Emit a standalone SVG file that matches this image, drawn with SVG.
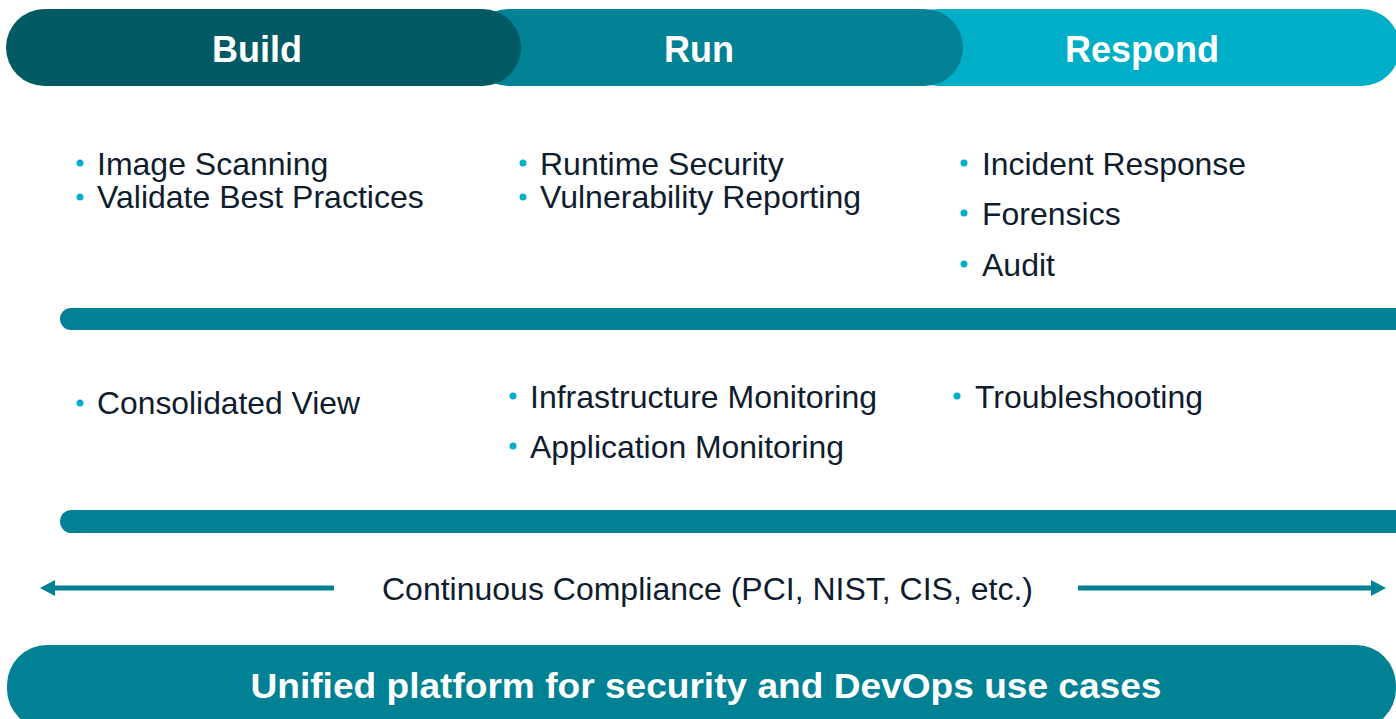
<svg xmlns="http://www.w3.org/2000/svg" width="1396" height="719" viewBox="0 0 1396 719">
<style>
.hdr{font-family:"Liberation Sans",Arial,sans-serif;font-weight:bold;font-size:36px;fill:#ffffff;text-anchor:middle}
.item{font-family:"Liberation Sans",Arial,sans-serif;font-size:32px;fill:#0f1c2e}
.bul{fill:#00b0ca}
.bar{fill:#008294}
.arr{stroke:#008294;stroke-width:5;fill:none}
.cc{font-family:"Liberation Sans",Arial,sans-serif;font-size:31px;fill:#0f1c2e}
.uni{font-family:"Liberation Sans",Arial,sans-serif;font-weight:bold;font-size:35px;fill:#ffffff;text-anchor:middle}
</style>
<defs>
<marker id="ah" viewBox="0 0 15 16" refX="1" refY="8" markerWidth="15" markerHeight="16" markerUnits="userSpaceOnUse" orient="auto">
<path d="M0,0 L15,8 L0,16 Z" fill="#008294"/>
</marker>
</defs>
<rect width="1396" height="719" fill="#ffffff"/>
<g id="respond">
<rect x="900" y="9" width="500" height="77" rx="38.5" fill="#00aec7"/>
<text class="hdr" x="1142" y="62">Respond</text>
</g>
<g id="run">
<rect x="470" y="9" width="493" height="77" rx="38.5" fill="#008294"/>
<text class="hdr" x="699" y="62">Run</text>
</g>
<g id="build">
<rect x="6" y="9" width="515" height="77" rx="38.5" fill="#005a64"/>
<text class="hdr" x="257" y="62">Build</text>
</g>
<g id="build-items">
<circle class="bul" cx="80" cy="163" r="3.5"/>
<text class="item" x="97" y="175">Image Scanning</text>
<circle class="bul" cx="80" cy="197" r="3.5"/>
<text class="item" x="97" y="208">Validate Best Practices</text>
</g>
<g id="run-items">
<circle class="bul" cx="523" cy="163" r="3.5"/>
<text class="item" x="540" y="175">Runtime Security</text>
<circle class="bul" cx="523" cy="197" r="3.5"/>
<text class="item" x="540" y="208" textLength="321" lengthAdjust="spacingAndGlyphs">Vulnerability Reporting</text>
</g>
<g id="respond-items">
<circle class="bul" cx="964" cy="163" r="3.5"/>
<text class="item" x="982" y="175" textLength="264" lengthAdjust="spacingAndGlyphs">Incident Response</text>
<circle class="bul" cx="964" cy="213" r="3.5"/>
<text class="item" x="982" y="225">Forensics</text>
<circle class="bul" cx="964" cy="264" r="3.5"/>
<text class="item" x="982" y="276">Audit</text>
</g>
<g id="bar1"><rect class="bar" x="60" y="308" width="1360" height="22" rx="11"/></g>
<g id="consolidated">
<circle class="bul" cx="80" cy="403" r="3.5"/>
<text class="item" x="97" y="414" textLength="263" lengthAdjust="spacingAndGlyphs">Consolidated View</text>
</g>
<g id="monitoring">
<circle class="bul" cx="513" cy="396" r="3.5"/>
<text class="item" x="530" y="408" textLength="347" lengthAdjust="spacingAndGlyphs">Infrastructure Monitoring</text>
<circle class="bul" cx="513" cy="446" r="3.5"/>
<text class="item" x="530" y="458" textLength="314" lengthAdjust="spacingAndGlyphs">Application Monitoring</text>
</g>
<g id="troubleshooting">
<circle class="bul" cx="957" cy="396" r="3.5"/>
<text class="item" x="975" y="408" textLength="228" lengthAdjust="spacingAndGlyphs">Troubleshooting</text>
</g>
<g id="bar2"><rect class="bar" x="60" y="510" width="1360" height="23" rx="11.5"/></g>
<g id="connectors">
<line class="arr" x1="334" y1="588" x2="54" y2="588" marker-end="url(#ah)"/>
<line class="arr" x1="1078" y1="588" x2="1372" y2="588" marker-end="url(#ah)"/>
</g>
<g id="compliance">
<text class="cc" x="382" y="600" textLength="651" lengthAdjust="spacingAndGlyphs">Continuous Compliance (PCI, NIST, CIS, etc.)</text>
</g>
<g id="platform">
<rect x="7" y="645" width="1389" height="84" rx="40" fill="#008294"/>
<text class="uni" x="706" y="698" textLength="911" lengthAdjust="spacingAndGlyphs">Unified platform for security and DevOps use cases</text>
</g>
</svg>
